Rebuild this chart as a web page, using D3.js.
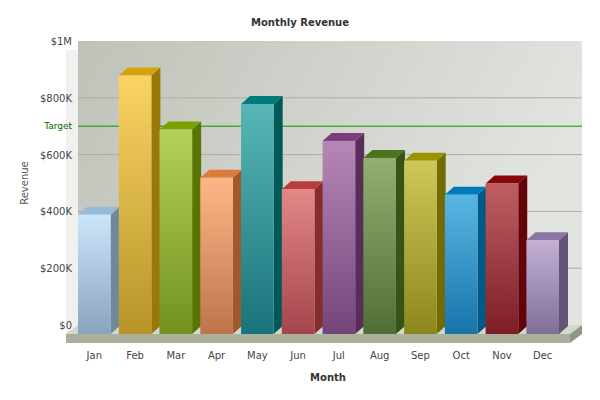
<!DOCTYPE html>
<html><head><meta charset="utf-8">
<script src="https://cdn.jsdelivr.net/npm/d3@7"></script>
<style>body{margin:0;background:#fff}text{font-family:Verdana,"DejaVu Sans",sans-serif}</style>
</head><body><svg id="c" width="600" height="400"></svg>
<script>
const months = ["Jan","Feb","Mar","Apr","May","Jun","Jul","Aug","Sep","Oct","Nov","Dec"];
const revenue = [420000,910000,720000,550000,810000,510000,680000,620000,610000,490000,530000,330000];
const colors = ["#AFD8F8","#F6BD0F","#8BBA00","#FF8E46","#008E8E","#D64646","#8E468E","#588526","#B3AA00","#008ED6","#9D080D","#A186BE"];
const yTicks = [0,200000,400000,600000,800000,1000000];
const yTickLabels = ["$0","$200K","$400K","$600K","$800K","$1M"];
const target = 700000;

const svg = d3.select("#c");
const dx = 12, dy = -9;           // depth of plot floor
const bx = 9, by = -8;            // depth of bars
const x = d3.scaleBand().domain(months).range([78, 559]).paddingInner(0.2).paddingOuter(0);
const y = d3.scaleLinear().domain([0, 1000000]).range([334, 50]);
const defs = svg.append("defs");

// back wall
const wg = defs.append("linearGradient").attr("id","wall").attr("x1",0).attr("y1",0).attr("x2",1).attr("y2",0.3);
wg.append("stop").attr("offset",0).attr("stop-color","#bfc2b8");
wg.append("stop").attr("offset",1).attr("stop-color","#e2e4e0");
svg.append("rect").attr("x",66+dx).attr("y",y(1000000)+dy).attr("width",504).attr("height",y(0)-y(1000000))
  .attr("fill","url(#wall)");
svg.append("rect").attr("x",66).attr("y",y(1000000)).attr("width",dx).attr("height",y(0)-y(1000000))
  .attr("fill","#e6e8e2").attr("opacity",0.6);

// grid
svg.append("g").selectAll("line").data(yTicks.slice(1,-1)).join("line")
  .attr("x1",66+dx).attr("x2",570+dx).attr("y1",d=>y(d)+dy).attr("y2",d=>y(d)+dy)
  .attr("stroke","#a8ae9e").attr("stroke-width",1);
svg.append("g").selectAll("text").data(yTicks).join("text")
  .attr("x",72).attr("y",d=>y(d)+dy+4).attr("text-anchor","end").attr("font-size",10).attr("fill","#444")
  .text((d,i)=>yTickLabels[i]);

// target line
svg.append("line").attr("x1",66+dx).attr("x2",570+dx).attr("y1",y(target)+dy).attr("y2",y(target)+dy)
  .attr("stroke","#009900").attr("stroke-width",1);
svg.append("text").attr("x",72).attr("y",y(target)+dy+3).attr("text-anchor","end").attr("font-size",9)
  .attr("fill","#006600").text("Target");

// floor
svg.append("path").attr("d",`M66,${y(0)}L${66+dx},${y(0)+dy}L${570+dx},${y(0)+dy}L570,${y(0)}Z`).attr("fill","#d4d8cc");
svg.append("rect").attr("x",66).attr("y",y(0)).attr("width",504).attr("height",9).attr("fill","#a9b09c");
svg.append("path").attr("d",`M570,${y(0)}L${570+dx},${y(0)+dy}L${570+dx},${y(0)+dy+9}L570,${y(0)+9}Z`).attr("fill","#8f9684");

// bars
months.forEach((m,i)=>{
  const c = d3.color(colors[i]);
  const g = defs.append("linearGradient").attr("id","g"+i).attr("x1",0).attr("y1",0).attr("x2",0).attr("y2",1);
  g.append("stop").attr("offset",0).attr("stop-color",d3.interpolateRgb(c,"#fff")(0.35));
  g.append("stop").attr("offset",1).attr("stop-color",d3.interpolateRgb(c,"#445")(0.35));
});
const bars = svg.append("g").selectAll("g").data(months).join("g");
const w = x.bandwidth();
bars.append("path").attr("d",(d,i)=>{const x0=x(d)+w,t=y(revenue[i]);return `M${x0},${t}L${x0+bx},${t+by}L${x0+bx},${y(0)+by}L${x0},${y(0)}Z`;})
  .attr("fill",(d,i)=>d3.color(colors[i]).darker(1.3));
bars.append("path").attr("d",(d,i)=>{const x0=x(d),t=y(revenue[i]);return `M${x0},${t}L${x0+bx},${t+by}L${x0+w+bx},${t+by}L${x0+w},${t}Z`;})
  .attr("fill",(d,i)=>d3.color(colors[i]).darker(0.4));
bars.append("rect").attr("x",d=>x(d)).attr("y",(d,i)=>y(revenue[i])).attr("width",w)
  .attr("height",(d,i)=>y(0)-y(revenue[i])).attr("fill",(d,i)=>`url(#g${i})`);

// x labels
svg.append("g").selectAll("text").data(months).join("text")
  .attr("x",d=>x(d)+w/2).attr("y",359).attr("text-anchor","middle").attr("font-size",10).attr("fill","#444").text(d=>d);

// titles
svg.append("text").attr("x",300).attr("y",26).attr("text-anchor","middle").attr("font-size",10)
  .attr("font-weight","bold").attr("fill","#333").text("Monthly Revenue");
svg.append("text").attr("x",328).attr("y",381).attr("text-anchor","middle").attr("font-size",10)
  .attr("font-weight","bold").attr("fill","#333").text("Month");
svg.append("text").attr("transform","translate(28,183)rotate(-90)").attr("text-anchor","middle")
  .attr("font-size",10).attr("fill","#555").text("Revenue");
</script></body></html>
